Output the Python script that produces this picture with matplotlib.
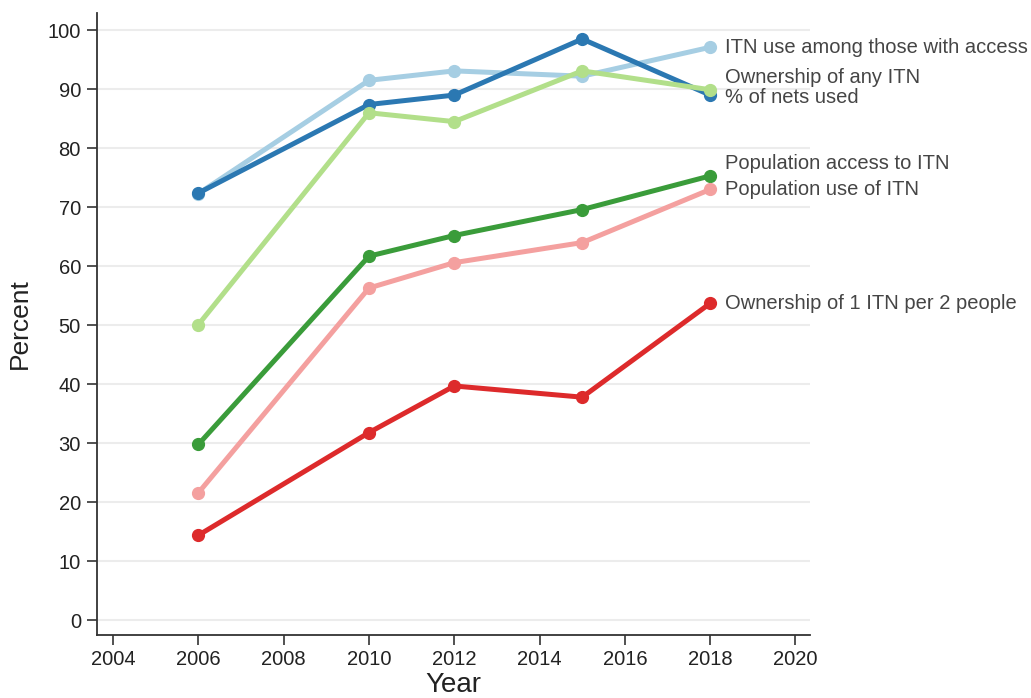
import matplotlib
matplotlib.use("Agg")
import matplotlib.pyplot as plt

plt.rcParams['font.family'] = ['Liberation Sans', 'DejaVu Sans']

years = [2006, 2010, 2012, 2015, 2018]

itn_use_access = [72.3, 91.5, 93.1, 92.2, 97.1]
nets_used = [72.4, 87.4, 89.0, 98.5, 89.0]
own_any = [50.1, 86.0, 84.5, 93.1, 89.9]
pop_access = [29.8, 61.7, 65.2, 69.6, 75.3]
pop_use = [21.6, 56.3, 60.6, 64.0, 73.0]
own_1per2 = [14.4, 31.8, 39.7, 37.8, 53.7]

series_names = [
    "ITN use among those with access",
    "% of nets used",
    "Ownership of any ITN",
    "Population access to ITN",
    "Population use of ITN",
    "Ownership of 1 ITN per 2 people",
]
series_values = [itn_use_access, nets_used, own_any, pop_access, pop_use, own_1per2]
colors = ["#a6cee3", "#2b78b2", "#b2df8a", "#3a9c3a", "#f4a09f", "#dd2a2b"]
# vertical nudge (points) for end labels so they don't collide
label_dy = [0, -2, 9, 9, 0, 0]

fig = plt.figure(figsize=(10.31, 6.98), dpi=100)
ax = fig.add_axes([0.094, 0.0903, 0.692, 0.891])

for name, vals, c, dy in zip(series_names, series_values, colors, label_dy):
    ax.plot(years, vals, color=c, lw=3.6, marker="o", ms=8.5,
            solid_joinstyle="round", solid_capstyle="round", zorder=3)
    ax.annotate(name, xy=(years[-1], vals[-1]), xytext=(11, dy),
                textcoords="offset points", va="center", ha="left",
                fontsize=14.5, color="#454545", annotation_clip=False)

ax.set_xlim(2003.62, 2020.35)
ax.set_ylim(-2.5, 102.9)
ax.set_xticks(range(2004, 2021, 2))
ax.set_yticks(range(0, 101, 10))
ax.yaxis.grid(True, color="#ececec", lw=1.5, zorder=0)
ax.set_axisbelow(True)

for side in ("top", "right"):
    ax.spines[side].set_visible(False)
for side in ("left", "bottom"):
    ax.spines[side].set_color("#333333")
    ax.spines[side].set_linewidth(1.3)

ax.tick_params(axis="both", labelsize=14.5, colors="#333333", length=7.5,
               width=1.2, labelcolor="#222222")
ax.tick_params(axis="y", pad=4)
ax.tick_params(axis="x", pad=3)
ax.set_ylabel("Percent", fontsize=19, color="#222222")
ax.set_xlabel("Year", fontsize=20, color="#222222")
ax.yaxis.set_label_coords(-0.091, 0.5)
ax.xaxis.set_label_coords(0.5, -0.059)

fig.savefig("out.png", dpi=100)
